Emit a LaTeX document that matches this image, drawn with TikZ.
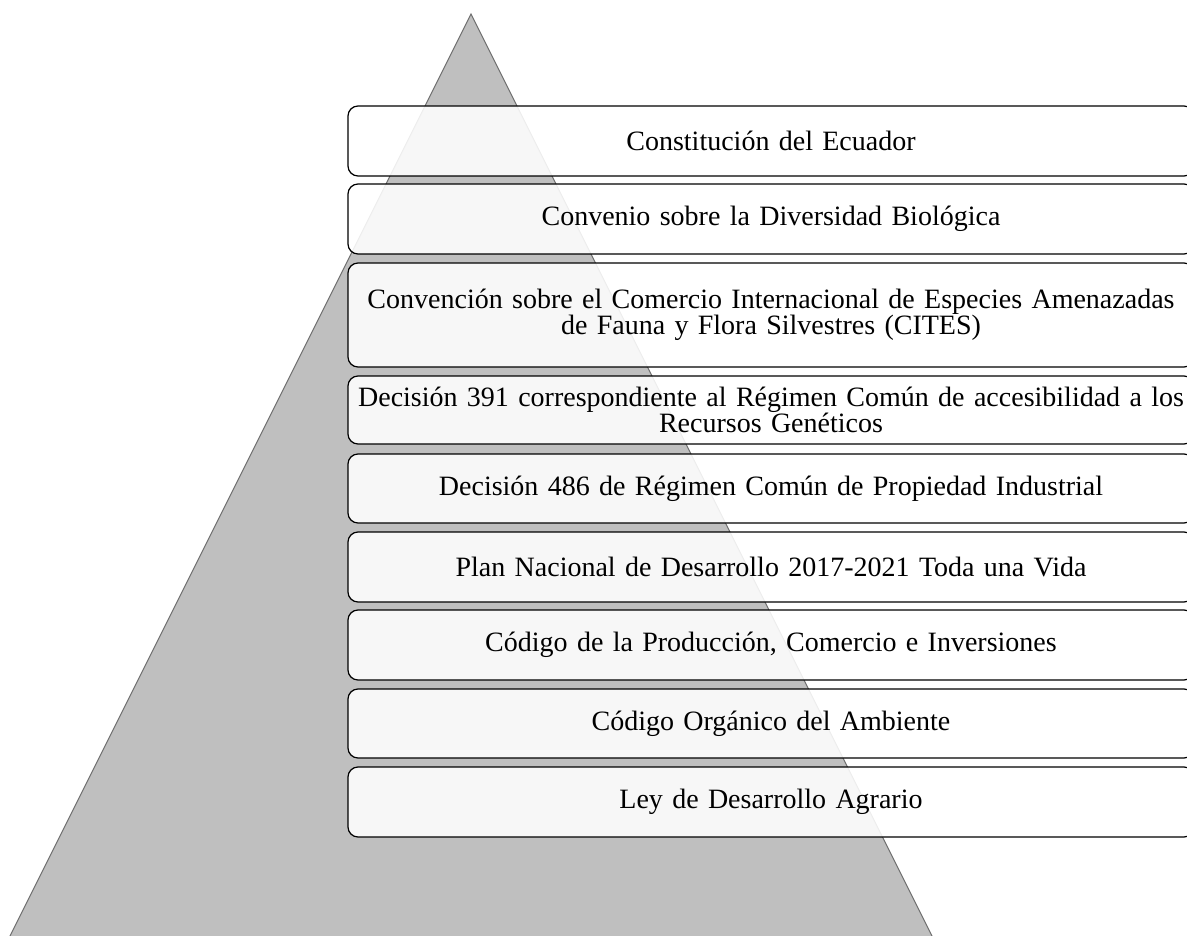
\documentclass[tikz,border=0pt]{standalone}
\usepackage{fontspec}
\setmainfont{Liberation Serif}
\definecolor{pyramidfill}{HTML}{BFBFBF}
\definecolor{pyramidedge}{HTML}{6E6E6E}
\begin{document}
\begin{tikzpicture}[x=1pt,y=-1pt,
  pyramid/.style={fill=pyramidfill, draw=pyramidedge, line width=1pt},
  level/.style={draw=black, line width=1.2pt, fill=white, fill opacity=0.88,
    text opacity=1, rounded corners=10pt, minimum width=846pt,
    text width=844pt, inner xsep=1pt, align=center,
    font=\fontsize{28}{26.5}\selectfont}]
\path[use as bounding box] (0,0) rectangle (1187,936);
\clip (0,0) rectangle (1187,936);

% background pyramid
\path[pyramid] (471,14) -- (934,940) -- (8,940) -- cycle;

% legal hierarchy levels
\node[level, minimum height=70pt]  (constitucion) at (771,141) {Constitución del Ecuador};
\node[level, minimum height=70pt]  (convenio)     at (771,219) {Convenio sobre la Diversidad Biológica};
\node[level, minimum height=104pt] (cites)        at (771,315) {Convención sobre el Comercio Internacional de Especies Amenazadas\\de Fauna y Flora Silvestres (CITES)};
\node[level, minimum height=68pt]  (decision391)  at (771,410) {Decisión 391 correspondiente al Régimen Común de accesibilidad a los\\Recursos Genéticos};
\node[level, minimum height=69pt]  (decision486)  at (771,488.5) {Decisión 486 de Régimen Común de Propiedad Industrial};
\node[level, minimum height=70pt]  (plan)         at (771,567) {Plan Nacional de Desarrollo 2017-2021 Toda una Vida};
\node[level, minimum height=70pt]  (copci)        at (771,645) {Código de la Producción, Comercio e Inversiones};
\node[level, minimum height=69pt]  (coa)          at (771,723.5) {Código Orgánico del Ambiente};
\node[level, minimum height=70pt]  (agrario)      at (771,802) {Ley de Desarrollo Agrario};
\end{tikzpicture}
\end{document}
